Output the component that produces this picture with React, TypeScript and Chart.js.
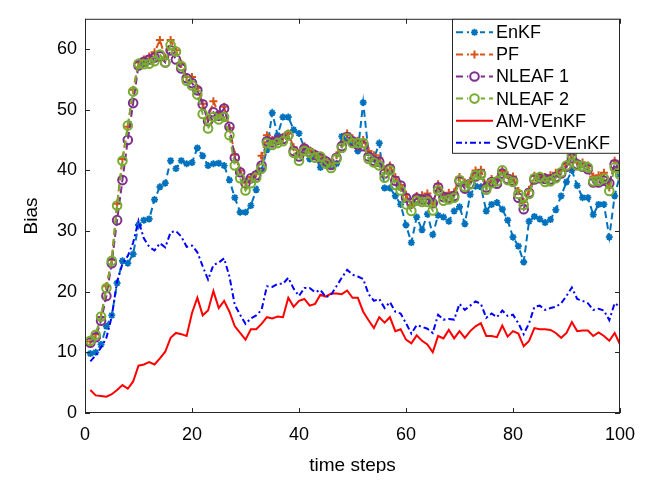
import React, { useEffect, useRef } from "react";
import { Chart, registerables } from "chart.js";

Chart.register(...registerables);

const timeSteps = [
  1, 2, 3, 4, 5, 6, 7, 8, 9, 10, 11, 12, 13, 14, 15, 16, 17, 18, 19, 20,
  21, 22, 23, 24, 25, 26, 27, 28, 29, 30, 31, 32, 33, 34, 35, 36, 37, 38, 39, 40,
  41, 42, 43, 44, 45, 46, 47, 48, 49, 50, 51, 52, 53, 54, 55, 56, 57, 58, 59, 60,
  61, 62, 63, 64, 65, 66, 67, 68, 69, 70, 71, 72, 73, 74, 75, 76, 77, 78, 79, 80,
  81, 82, 83, 84, 85, 86, 87, 88, 89, 90, 91, 92, 93, 94, 95, 96, 97, 98, 99, 100,
];

const enkf = [
  9.8, 10.0, 11.3, 14.3, 16.1, 21.4, 25.1, 24.7, 26.2, 31.0,
  31.8, 32.0, 35.2, 37.3, 37.9, 41.6, 40.3, 41.6, 41.1, 41.3,
  43.7, 42.4, 40.8, 41.1, 41.2, 40.8, 38.4, 35.5, 33.1, 33.1,
  34.2, 36.8, 40.0, 43.4, 49.5, 45.8, 48.8, 48.8, 46.7, 46.1,
  43.7, 41.9, 42.3, 40.5, 41.1, 40.8, 41.1, 45.6, 45.0, 44.6,
  43.2, 51.2, 42.9, 41.9, 44.5, 37.1, 37.1, 35.8, 34.4, 31.0,
  28.1, 32.3, 30.2, 32.8, 29.4, 32.6, 32.3, 31.6, 33.3, 34.0,
  31.2, 36.0, 37.4, 37.3, 33.3, 34.4, 34.7, 33.6, 31.8, 29.0,
  27.5, 24.9, 31.6, 32.4, 32.0, 31.4, 31.9, 33.5, 35.8, 38.1,
  40.0, 37.5, 35.5, 35.5, 32.7, 34.4, 34.4, 29.0, 35.8, 39.3,
];

const pf = [
  11.8, 13.0, 15.8, 20.9, 25.3, 34.5, 41.9, 47.2, 53.3, 57.8,
  58.3, 58.8, 59.5, 61.5, 58.6, 61.5, 59.8, 57.6, 55.4, 55.4,
  53.6, 51.0, 48.5, 51.4, 49.3, 50.5, 47.0, 42.6, 40.0, 38.0,
  38.9, 39.5, 42.4, 45.8, 45.0, 45.2, 45.5, 46.1, 43.8, 42.8,
  44.0, 43.3, 42.8, 42.4, 41.8, 41.3, 42.5, 44.3, 46.1, 45.3,
  44.9, 45.0, 43.2, 42.5, 42.0, 40.2, 40.8, 38.9, 37.6, 36.0,
  34.3, 35.8, 35.9, 36.2, 34.5, 37.7, 36.0, 36.3, 36.4, 38.9,
  38.0, 38.3, 40.0, 40.1, 37.5, 38.6, 38.5, 39.9, 39.2, 39.0,
  36.6, 34.8, 36.8, 39.1, 39.1, 38.9, 39.2, 39.6, 40.0, 41.0,
  42.6, 41.3, 41.3, 40.8, 39.0, 39.2, 39.6, 37.2, 41.6, 40.6,
];

const nleaf1 = [
  11.6, 12.5, 15.2, 19.3, 24.7, 31.8, 38.4, 45.0, 51.1, 57.3,
  57.9, 58.3, 58.6, 58.8, 57.8, 59.8, 58.3, 56.8, 55.2, 54.4,
  53.2, 50.9, 48.1, 49.6, 49.0, 50.2, 47.2, 42.1, 39.7, 37.9,
  38.7, 39.2, 40.8, 44.8, 44.6, 45.0, 45.2, 45.8, 43.2, 42.3,
  43.6, 43.0, 42.5, 42.0, 41.5, 40.9, 42.1, 44.0, 45.5, 44.8,
  44.2, 44.0, 42.3, 41.6, 41.4, 39.5, 40.3, 38.3, 37.5, 35.5,
  34.6, 35.4, 35.2, 35.3, 34.6, 37.2, 35.6, 35.5, 35.8, 38.2,
  37.0, 37.8, 39.0, 39.4, 37.2, 38.1, 37.8, 39.5, 38.6, 38.3,
  35.5, 33.6, 36.3, 38.5, 38.7, 38.6, 38.5, 38.9, 39.5, 40.6,
  42.0, 41.0, 40.6, 40.2, 38.0, 38.0, 38.3, 37.9, 41.0, 40.3,
];

const nleaf2 = [
  11.9, 12.9, 15.9, 20.6, 25.1, 34.2, 41.6, 47.4, 53.0, 57.6,
  57.5, 57.6, 58.0, 59.1, 57.8, 60.7, 59.6, 57.2, 54.8, 54.0,
  52.5, 49.3, 46.9, 48.8, 48.4, 48.8, 45.8, 40.8, 38.7, 36.7,
  37.9, 38.8, 40.3, 44.5, 44.2, 44.5, 44.8, 45.8, 42.9, 41.6,
  43.2, 42.9, 42.1, 42.3, 41.1, 40.4, 41.9, 43.7, 45.3, 44.5,
  44.5, 44.5, 41.9, 41.3, 40.8, 38.8, 40.0, 37.6, 36.7, 34.4,
  33.3, 35.0, 34.8, 34.8, 33.4, 36.7, 35.0, 35.2, 35.5, 38.4,
  37.3, 37.7, 39.2, 39.3, 36.8, 37.9, 38.2, 40.0, 38.4, 38.1,
  36.1, 34.3, 36.1, 38.7, 38.9, 38.1, 38.2, 38.7, 39.7, 40.8,
  42.5, 40.8, 40.7, 40.5, 38.2, 38.3, 38.7, 36.6, 40.5, 39.3,
];

const amVenkf = [
  3.8, 2.9, 2.8, 2.7, 3.1, 3.8, 4.6, 4.0, 5.2, 7.8,
  8.0, 8.4, 8.0, 9.0, 10.1, 12.4, 13.2, 13.0, 12.7, 16.5,
  19.0, 16.1, 16.9, 20.1, 17.3, 18.5, 16.7, 14.3, 13.2, 12.1,
  13.8, 13.8, 14.7, 15.8, 15.6, 15.9, 15.8, 19.0, 17.5, 18.5,
  18.8, 17.7, 18.0, 19.5, 19.2, 19.7, 19.7, 19.6, 20.2, 19.0,
  19.0, 16.7, 15.3, 14.0, 15.8, 14.9, 15.8, 13.5, 13.8, 12.1,
  11.5, 12.8, 11.9, 11.3, 10.0, 12.7, 12.3, 13.7, 12.3, 13.5,
  12.4, 13.5, 14.3, 14.8, 12.7, 12.7, 12.5, 14.4, 12.6, 13.5,
  13.1, 11.0, 11.9, 14.0, 13.8, 13.8, 13.7, 13.2, 12.4, 13.2,
  15.0, 13.5, 13.6, 13.6, 12.7, 13.3, 12.7, 11.9, 13.2, 11.3,
];

const svgdVenkf = [
  8.5, 9.5, 10.8, 12.4, 15.9, 21.7, 24.6, 25.9, 28.1, 31.7,
  28.8, 27.4, 26.8, 28.0, 27.3, 29.8, 30.0, 29.1, 27.4, 27.6,
  26.5, 24.2, 22.0, 24.4, 24.8, 25.5, 22.5, 17.8, 16.2, 14.7,
  15.6, 16.1, 17.0, 20.9, 20.8, 21.3, 21.3, 22.3, 20.5, 19.3,
  20.6, 20.6, 19.9, 20.3, 19.1, 19.5, 20.9, 22.3, 23.6, 22.8,
  22.5, 22.1, 19.6, 18.5, 18.8, 17.3, 18.3, 16.7, 16.4, 14.8,
  13.1, 14.5, 14.2, 13.9, 13.2, 16.2, 15.4, 15.5, 15.4, 18.0,
  17.0, 17.7, 18.4, 18.0, 15.7, 16.4, 15.8, 16.9, 16.0, 16.2,
  14.8, 13.0, 14.8, 17.5, 17.7, 17.0, 17.3, 17.5, 18.1, 19.3,
  20.7, 18.8, 18.5, 18.1, 17.0, 17.2, 16.9, 15.3, 18.1, 17.5,
];

const seriesNames = ["EnKF", "PF", "NLEAF 1", "NLEAF 2", "AM-VEnKF", "SVGD-VEnKF"];
const xTicks = [0, 20, 40, 60, 80, 100];
const yTicks = [0, 10, 20, 30, 40, 50, 60];

const FONT = "'Liberation Sans', Arial, Helvetica, sans-serif";
const AXIS_COLOR = "#262626";

function toPoints(values: number[]) {
  return timeSteps.map((t, i) => ({ x: t, y: values[i] }));
}

function drawMarker(ctx: CanvasRenderingContext2D, style: string, x: number, y: number, r: number) {
  ctx.beginPath();
  if (style === "circle") {
    ctx.arc(x, y, r, 0, Math.PI * 2);
  } else if (style === "cross") {
    ctx.moveTo(x - r, y);
    ctx.lineTo(x + r, y);
    ctx.moveTo(x, y - r);
    ctx.lineTo(x, y + r);
  } else if (style === "star") {
    const d = r * Math.SQRT1_2;
    ctx.moveTo(x - r, y);
    ctx.lineTo(x + r, y);
    ctx.moveTo(x, y - r);
    ctx.lineTo(x, y + r);
    ctx.moveTo(x - d, y - d);
    ctx.lineTo(x + d, y + d);
    ctx.moveTo(x - d, y + d);
    ctx.lineTo(x + d, y - d);
  }
  ctx.stroke();
}

const boxPlugin = {
  id: "matlabBox",
  afterDatasetsDraw(chart: any) {
    const { ctx, chartArea } = chart;
    const { left, right, top, bottom } = chartArea;
    const xs = chart.scales.x;
    const ys = chart.scales.y;
    ctx.save();
    ctx.strokeStyle = AXIS_COLOR;
    ctx.lineWidth = 1;
    ctx.setLineDash([]);
    ctx.strokeRect(left + 0.5, top + 0.5, right - left - 1, bottom - top - 1);
    const tl = 5;
    ctx.beginPath();
    xTicks.forEach((v) => {
      const px = Math.round(xs.getPixelForValue(v)) + 0.5;
      ctx.moveTo(px, bottom);
      ctx.lineTo(px, bottom - tl);
      ctx.moveTo(px, top);
      ctx.lineTo(px, top + tl);
    });
    yTicks.forEach((v) => {
      const py = Math.round(ys.getPixelForValue(v)) + 0.5;
      ctx.moveTo(left, py);
      ctx.lineTo(left + tl, py);
      ctx.moveTo(right, py);
      ctx.lineTo(right - tl, py);
    });
    ctx.stroke();

    // legend
    const lx = 452;
    const ly = top;
    const lw = right - lx;
    const lh = 135;
    ctx.fillStyle = "#ffffff";
    ctx.fillRect(lx, ly, lw, lh);
    ctx.strokeStyle = AXIS_COLOR;
    ctx.lineWidth = 1;
    ctx.strokeRect(lx + 0.5, ly + 0.5, lw - 1, lh - 1);
    chart.data.datasets.forEach((ds: any, i: number) => {
      const cy = ly + 13.5 + i * 22.1;
      ctx.save();
      ctx.strokeStyle = ds.borderColor;
      ctx.lineWidth = ds.borderWidth;
      ctx.setLineDash(ds.borderDash || []);
      ctx.beginPath();
      ctx.moveTo(lx + 4, cy);
      ctx.lineTo(lx + 41, cy);
      ctx.stroke();
      ctx.setLineDash([]);
      if (ds.pointRadius > 0) {
        ctx.lineWidth = ds.pointBorderWidth;
        ctx.strokeStyle = ds.pointBorderColor;
        ctx.fillStyle = "#ffffff";
        if (ds.pointStyle === "circle") {
          ctx.beginPath();
          ctx.arc(lx + 22.5, cy, ds.pointRadius + 2, 0, Math.PI * 2);
          ctx.fill();
        } else {
          ctx.fillRect(lx + 17, cy - 5, 11, 10);
        }
        drawMarker(ctx, ds.pointStyle, lx + 22.5, cy, ds.pointRadius);
      }
      ctx.restore();
      ctx.fillStyle = "#000000";
      ctx.font = `18px ${FONT}`;
      ctx.textBaseline = "middle";
      ctx.textAlign = "left";
      ctx.fillText(ds.label, lx + 44, cy + 1);
    });
    ctx.restore();
  },
};

export default function App() {
  const canvasRef = useRef<HTMLCanvasElement | null>(null);

  useEffect(() => {
    const canvas = canvasRef.current;
    if (!canvas) return;
    const dash = [7, 4];
    const chart = new Chart(canvas, {
      type: "line",
      data: {
        datasets: [
          {
            label: seriesNames[0],
            data: toPoints(enkf),
            borderColor: "#0072BD",
            borderWidth: 2,
            borderDash: dash,
            pointStyle: "star",
            pointRadius: 3.5,
            pointBorderWidth: 1.8,
            pointBorderColor: "#0072BD",
            pointBackgroundColor: "#0072BD",
            order: 6,
          },
          {
            label: seriesNames[1],
            data: toPoints(pf),
            borderColor: "#D95319",
            borderWidth: 2,
            borderDash: dash,
            pointStyle: "cross",
            pointRadius: 4,
            pointBorderWidth: 2,
            pointBorderColor: "#D95319",
            pointBackgroundColor: "#D95319",
            order: 5,
          },
          {
            label: seriesNames[2],
            data: toPoints(nleaf1),
            borderColor: "#7E2F8E",
            borderWidth: 2,
            borderDash: dash,
            pointStyle: "circle",
            pointRadius: 4.3,
            pointBorderWidth: 2,
            pointBorderColor: "#7E2F8E",
            pointBackgroundColor: "rgba(0,0,0,0)",
            order: 4,
          },
          {
            label: seriesNames[3],
            data: toPoints(nleaf2),
            borderColor: "#77AC30",
            borderWidth: 2,
            borderDash: dash,
            pointStyle: "circle",
            pointRadius: 4.3,
            pointBorderWidth: 2,
            pointBorderColor: "#77AC30",
            pointBackgroundColor: "rgba(0,0,0,0)",
            order: 3,
          },
          {
            label: seriesNames[4],
            data: toPoints(amVenkf),
            borderColor: "#FF0000",
            borderWidth: 2,
            pointRadius: 0,
            order: 2,
          },
          {
            label: seriesNames[5],
            data: toPoints(svgdVenkf),
            borderColor: "#0000FF",
            borderWidth: 2,
            borderDash: [6, 3, 2, 3],
            pointRadius: 0,
            order: 1,
          },
        ] as any,
      },
      options: {
        animation: false,
        responsive: false,
        maintainAspectRatio: false,
        layout: { padding: { top: 5, right: 28, left: 0, bottom: 0 } },
        plugins: { legend: { display: false }, tooltip: { enabled: false } },
        elements: { line: { tension: 0, fill: false } },
        scales: {
          x: {
            type: "linear",
            min: 0,
            max: 100,
            grid: { display: false, drawTicks: false },
            border: { display: false },
            afterBuildTicks: (scale: any) => {
              scale.ticks = xTicks.map((v) => ({ value: v }));
            },
            afterFit: (scale: any) => {
              scale.height = 68;
            },
            ticks: {
              color: "#000000",
              padding: 11,
              maxRotation: 0,
              font: { family: FONT, size: 18 },
            },
            title: {
              display: true,
              text: "time steps",
              color: "#000000",
              font: { family: FONT, size: 19 },
              padding: { top: 0, bottom: 4 },
            },
          },
          y: {
            type: "linear",
            min: 0,
            max: 65,
            grid: { display: false, drawTicks: false },
            border: { display: false },
            afterBuildTicks: (scale: any) => {
              scale.ticks = yTicks.map((v) => ({ value: v }));
            },
            afterFit: (scale: any) => {
              scale.width = 85;
            },
            ticks: {
              color: "#000000",
              padding: 8,
              font: { family: FONT, size: 18 },
            },
            title: {
              display: true,
              text: "Bias",
              color: "#000000",
              font: { family: FONT, size: 19 },
              padding: { top: 20, bottom: 0 },
            },
          },
        },
      },
      plugins: [boxPlugin],
    });
    return () => chart.destroy();
  }, []);

  return (
    <div style={{ margin: -8, width: 648, height: 481, background: "#ffffff" }}>
      <canvas ref={canvasRef} width={648} height={481} style={{ display: "block" }} />
    </div>
  );
}
